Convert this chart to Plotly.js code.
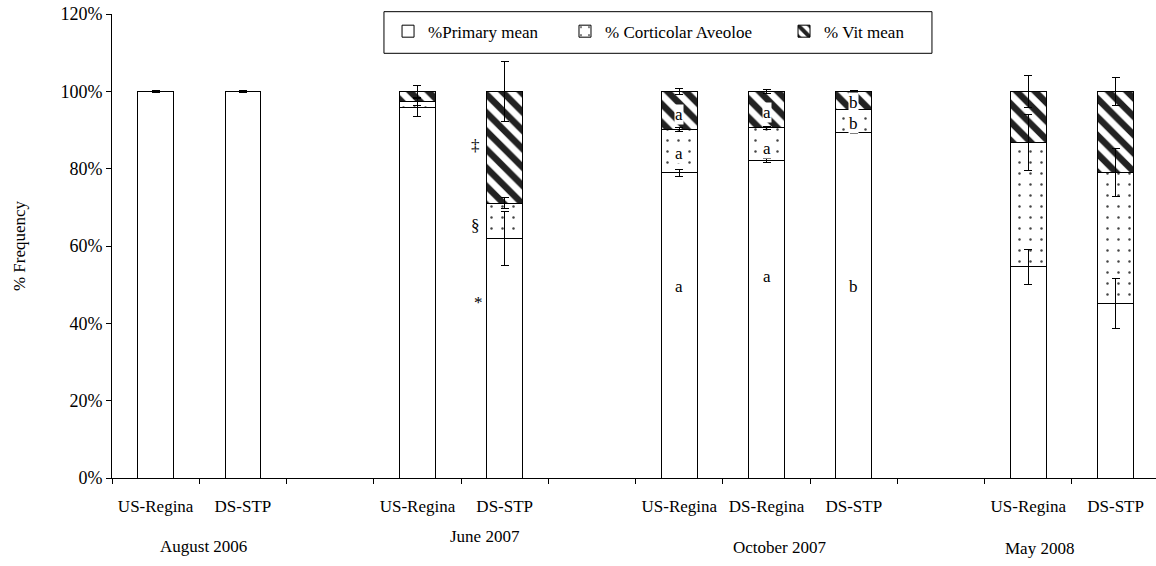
<!DOCTYPE html>
<html>
<head>
<meta charset="utf-8">
<script src="https://cdn.plot.ly/plotly-3.0.1.min.js"></script>
<style>html,body{margin:0;padding:0;background:#fff;}#chart{width:1156px;height:566px;}</style>
</head>
<body>
<div id="chart"></div>
<script>
// slots on the category axis (blank slots separate the sampling dates)
const slotIds    = ['aug-us','aug-ds','gap1','jun-us','jun-ds','gap2','oct-us','oct-dsr','oct-ds','gap3','may-us','may-ds'];
const slotLabels = ['US-Regina','DS-STP','','US-Regina','DS-STP','','US-Regina','DS-Regina','DS-STP','','US-Regina','DS-STP'];
const groupNames = ['August 2006','June 2007','October 2007','May 2008'];

// percentages (null = empty slot)
const primaryMean = [100, 100, null, 95.8, 62.0, null, 78.9, 82.1, 89.3, null, 54.6, 45.1];
const primaryErr  = [0.2, 0.2, null, 2.4, 7.0, null, 0.9, 0.5, 0.3, null, 4.5, 6.5];
const corticMean  = [0, 0, null, 1.5, 9.1, null, 11.2, 8.5, 6.0, null, 32.2, 33.9];
const corticErr   = [0, 0, null, 1.0, 1.5, null, 0.5, 0.4, 0.3, null, 7.3, 6.2];
const vitMean     = [0, 0, null, 2.7, 28.9, null, 9.9, 9.4, 4.7, null, 13.2, 21.0];
const vitErr      = [0, 0, null, 1.6, 7.7, null, 0.8, 0.5, 0.3, null, 4.2, 3.6];

const seriesNames = ['%Primary mean', '% Corticolar Aveoloe', '% Vit mean'];

// significance letters / symbols
const markText = ['a','a','a','a','a','a','b','b','b','‡','§','*'];
const markSlot = [6.0, 6.0, 6.0, 7.0, 7.0, 7.0, 8.0, 8.0, 8.0, 3.66, 3.66, 3.7];
const markY    = [49.5, 84.0, 93.9, 52.0, 85.3, 94.4, 49.5, 91.8, 97.0, 85.9, 65.2, 45.3];
const markBg   = [false, true, true, false, true, true, false, true, true, false, false, false];

const groupX = [0.55, 3.77, 7.15, 10.13];
const groupY = [-0.147, -0.127, -0.149, -0.153];

const FONT = 'Liberation Serif, Times New Roman, serif';
const line = {color: '#000', width: 1};
const errStyle = {type: 'data', visible: true, color: '#000', thickness: 1, width: 4};

const patterns = [
  null,
  {shape: '.', fgcolor: '#444', bgcolor: '#fff', size: 11, solidity: 0.04},
  {shape: '\\', fgcolor: '#222', bgcolor: '#fff', size: 13, solidity: 0.5}
];
const means = [primaryMean, corticMean, vitMean];
const errs = [primaryErr, corticErr, vitErr];
const legendIds = ['legend', 'legend2', 'legend3'];

const traces = [];
// visible stacked bars
means.forEach((m, i) => {
  const marker = {color: '#fff', line: line};
  if (patterns[i]) marker.pattern = patterns[i];
  traces.push({type: 'bar', name: seriesNames[i], x: slotIds, y: m, marker: marker,
               legend: legendIds[i], hoverinfo: 'skip'});
});
// transparent copy on an overlaid axis so the error bars sit above every segment
means.forEach((m, i) => {
  traces.push({type: 'bar', name: seriesNames[i], x: slotIds, y: m, yaxis: 'y2',
               marker: {color: 'rgba(0,0,0,0)', line: {width: 0}},
               error_y: Object.assign({array: errs[i]}, errStyle),
               showlegend: false, hoverinfo: 'skip'});
});

const annotations = [];
markText.forEach((t, i) => {
  annotations.push({x: markSlot[i], y: markY[i], xref: 'x', yref: 'y', text: t, showarrow: false,
    font: {family: FONT, size: 17, color: '#000'},
    bgcolor: markBg[i] ? '#fff' : 'rgba(0,0,0,0)', borderpad: 0});
});
groupNames.forEach((g, i) => {
  annotations.push({x: groupX[i], y: groupY[i], xref: 'x', yref: 'paper', text: g, showarrow: false,
    yanchor: 'middle', font: {family: FONT, size: 17, color: '#000'}});
});

const legendBase = {orientation: 'h', xanchor: 'left', y: 0.962, yanchor: 'middle',
                    bgcolor: 'rgba(0,0,0,0)', borderwidth: 0, font: {family: FONT, size: 17, color: '#000'}};
const axisY = {range: [0, 120], dtick: 20, ticksuffix: '%', ticks: 'outside', ticklen: 5,
               tickcolor: '#000', showline: true, linecolor: '#000', linewidth: 1,
               showgrid: false, zeroline: false, tickfont: {family: FONT, size: 18},
               title: {text: '% Frequency', font: {family: FONT, size: 17}, standoff: 30}};

const layout = {
  width: 1156, height: 566,
  margin: {l: 112, r: 0, t: 14, b: 88},
  paper_bgcolor: '#fff', plot_bgcolor: '#fff',
  barmode: 'stack', bargap: 0.59,
  font: {family: FONT, size: 17, color: '#000'},
  showlegend: true,
  legend: Object.assign({x: 0.2644}, legendBase),
  legend2: Object.assign({x: 0.4339}, legendBase),
  legend3: Object.assign({x: 0.6437}, legendBase),
  shapes: [{type: 'rect', xref: 'paper', yref: 'paper', x0: 0.2605, x1: 0.7854, y0: 0.9153, y1: 1.005,
            line: {color: '#000', width: 1}, fillcolor: '#fff', layer: 'above'}],
  xaxis: {type: 'category', categoryorder: 'array', categoryarray: slotIds,
          tickvals: slotIds, ticktext: slotLabels,
          range: [-0.5, 11.463], tickson: 'boundaries', ticks: 'outside', ticklen: 5,
          tickcolor: '#000', showline: true, linecolor: '#000', linewidth: 1,
          showgrid: false, zeroline: false, ticklabelstandoff: 13,
          tickfont: {family: FONT, size: 17}},
  yaxis: axisY,
  yaxis2: {overlaying: 'y', range: [0, 120], visible: false, showgrid: false, zeroline: false},
  annotations: annotations
};

Plotly.newPlot('chart', traces, layout, {displayModeBar: false, staticPlot: true});
</script>
</body>
</html>
